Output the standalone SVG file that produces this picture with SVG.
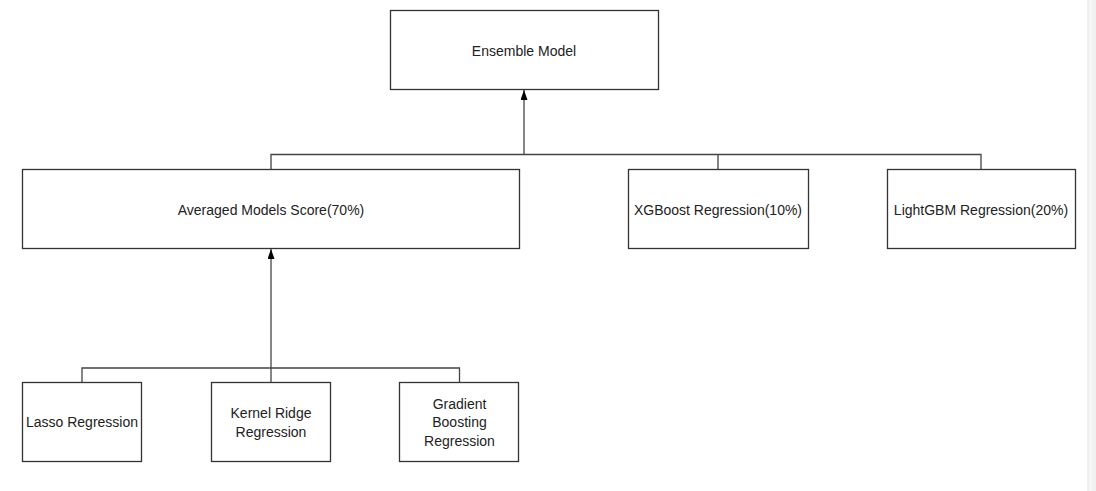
<svg xmlns="http://www.w3.org/2000/svg" width="1096" height="491" viewBox="0 0 1096 491">
<style>
.box{fill:#fff;stroke:#333;stroke-width:1.3}
.lbl{font-family:"Liberation Sans",Arial,sans-serif;font-size:14px;fill:#222;text-anchor:middle}
.con{fill:none;stroke:#444;stroke-width:1.3}
</style>
<defs>
<marker id="arr" markerWidth="7" markerHeight="10" refX="3.5" refY="0" orient="auto-start-reverse" markerUnits="userSpaceOnUse" viewBox="0 0 7 10">
<path d="M0,0 L7,0 L3.5,10 z" fill="#000"/>
</marker>
<marker id="up" markerWidth="7" markerHeight="10" refX="3.5" refY="0" orient="0" markerUnits="userSpaceOnUse" viewBox="0 0 7 10">
<path d="M3.5,0 L7,10 L0,10 z" fill="#000"/>
</marker>
</defs>
<rect x="0" y="0" width="1096" height="491" fill="#fff"/>
<rect x="1087" y="0" width="9" height="491" fill="#f1f1f1"/>
<rect x="1090" y="0" width="1.5" height="491" fill="#fafafa"/>
<g id="connectors">
<path class="con" d="M271,169.5 V154.5 H981 V169.5 M718,154.5 V169.5"/>
<path class="con" d="M524,154.5 V90" marker-end="url(#up)"/>
<path class="con" d="M82,382.5 V368 H459.5 V382.5"/>
<path class="con" d="M271,382.5 V249" marker-end="url(#up)"/>
</g>
<g id="ensemble"><rect class="box" x="390.5" y="10.5" width="268" height="79"/><text class="lbl" x="524" y="56">Ensemble Model</text></g>
<g id="averaged"><rect class="box" x="22.5" y="169.5" width="497" height="79"/><text class="lbl" x="271" y="215">Averaged Models Score(70%)</text></g>
<g id="xgboost"><rect class="box" x="628.5" y="169.5" width="180" height="79"/><text class="lbl" x="718" y="215">XGBoost Regression(10%)</text></g>
<g id="lightgbm"><rect class="box" x="887.5" y="169.5" width="188" height="79"/><text class="lbl" x="981" y="215">LightGBM Regression(20%)</text></g>
<g id="lasso"><rect class="box" x="22.5" y="382.5" width="119" height="79"/><text class="lbl" x="82" y="427">Lasso Regression</text></g>
<g id="kernel"><rect class="box" x="211.5" y="382.5" width="119" height="79"/><text class="lbl" x="271" y="417.5">Kernel Ridge</text><text class="lbl" x="271" y="436.5">Regression</text></g>
<g id="gradient"><rect class="box" x="399.5" y="382.5" width="119" height="79"/><text class="lbl" x="459.5" y="408.5">Gradient</text><text class="lbl" x="459.5" y="427">Boosting</text><text class="lbl" x="459.5" y="445.5">Regression</text></g>
</svg>
